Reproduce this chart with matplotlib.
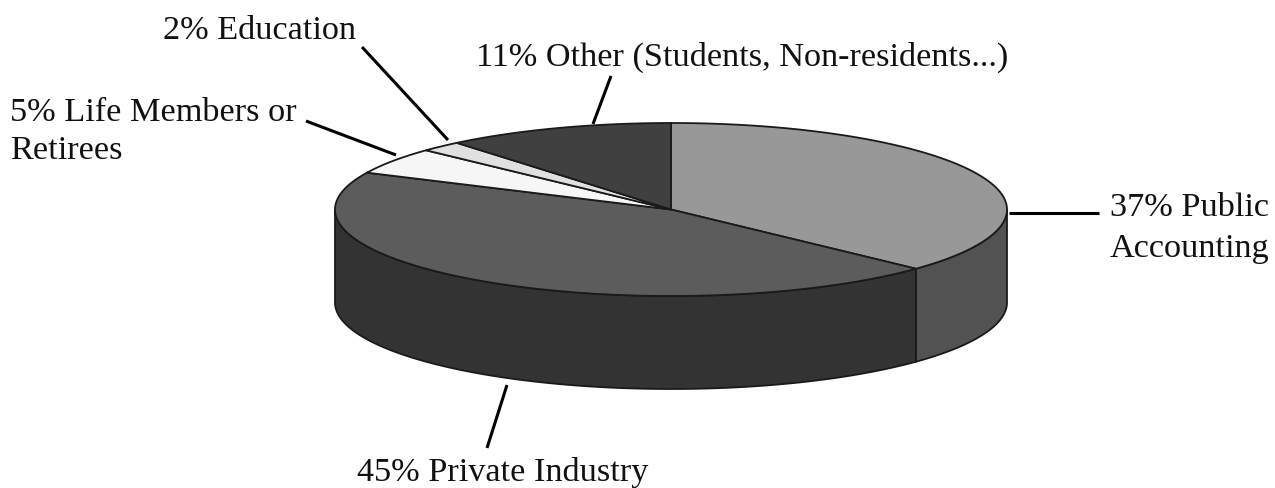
import numpy as np
import matplotlib.pyplot as plt
from matplotlib.patches import Polygon

# shares, clockwise from the top of the pie
labels = ['37% Public\nAccounting', '45% Private Industry', '5% Life Members or\nRetirees', '2% Education',
          '11% Other (Students, Non-residents...)']
values = [37, 45, 5, 2, 11]
top_colors = ['#989898', '#5c5c5c', '#f6f6f6', '#e0e0e0', '#404040']
side_colors = ['#525252', '#333333', '#a0a0a0', '#909090', '#262626']

plt.rcParams['font.family'] = ['Liberation Serif', 'DejaVu Serif']

fig = plt.figure(figsize=(12.75, 4.89), dpi=100)
ax = fig.add_axes([0, 0, 1, 1])
ax.set_xlim(0, 1275)
ax.set_ylim(489, 0)
ax.axis('off')

# pie geometry in pixels
cx, cy = 671, 210.5
rx, ry = 336, 86.5
depth = 93


def rim(t):
    return cx + rx * np.sin(t), cy - ry * np.cos(t)


edges = np.cumsum([0] + values) / sum(values) * 2 * np.pi

# walls, only the front half of the rim shows
for i in range(len(values)):
    a = max(edges[i], np.pi / 2)
    b = min(edges[i + 1], 3 * np.pi / 2)
    if b <= a:
        continue
    t = np.linspace(a, b, 200)
    x, y = rim(t)
    pts = np.r_[np.c_[x, y], np.c_[x[::-1], y[::-1] + depth]]
    ax.add_patch(Polygon(pts, closed=True, fc=side_colors[i], ec='#1a1a1a', lw=1.3))

# top face
for i in range(len(values)):
    t = np.linspace(edges[i], edges[i + 1], 200)
    x, y = rim(t)
    pts = np.r_[[[cx, cy]], np.c_[x, y]]
    ax.add_patch(Polygon(pts, closed=True, fc=top_colors[i], ec='#1a1a1a', lw=1.3))

# labels
fs = 24.7
ax.text(1110, 208, labels[0].split('\n')[0], fontsize=fs, va='center', ha='left', color='#111111')
ax.text(1110, 249, labels[0].split('\n')[1], fontsize=fs, va='center', ha='left', color='#111111')
ax.text(357, 473, labels[1], fontsize=fs, va='center', ha='left', color='#111111')
ax.text(10, 113, labels[2].split('\n')[0], fontsize=fs, va='center', ha='left', color='#111111')
ax.text(10, 151, labels[2].split('\n')[1], fontsize=fs, va='center', ha='left', color='#111111')
ax.text(163, 31, labels[3], fontsize=fs, va='center', ha='left', color='#111111')
ax.text(476, 57, labels[4], fontsize=fs, va='center', ha='left', color='#111111')

# leader lines
leaders = [((1009, 214), (1099, 214)), ((507, 386), (487, 449)), ((306, 122), (396, 156)),
           ((362, 48), (448, 141)), ((611, 77), (593, 125))]
for p, q in leaders:
    ax.plot([p[0], q[0]], [p[1], q[1]], color='black', lw=2.2, solid_capstyle='butt')

fig.savefig('out.png', dpi=100)
